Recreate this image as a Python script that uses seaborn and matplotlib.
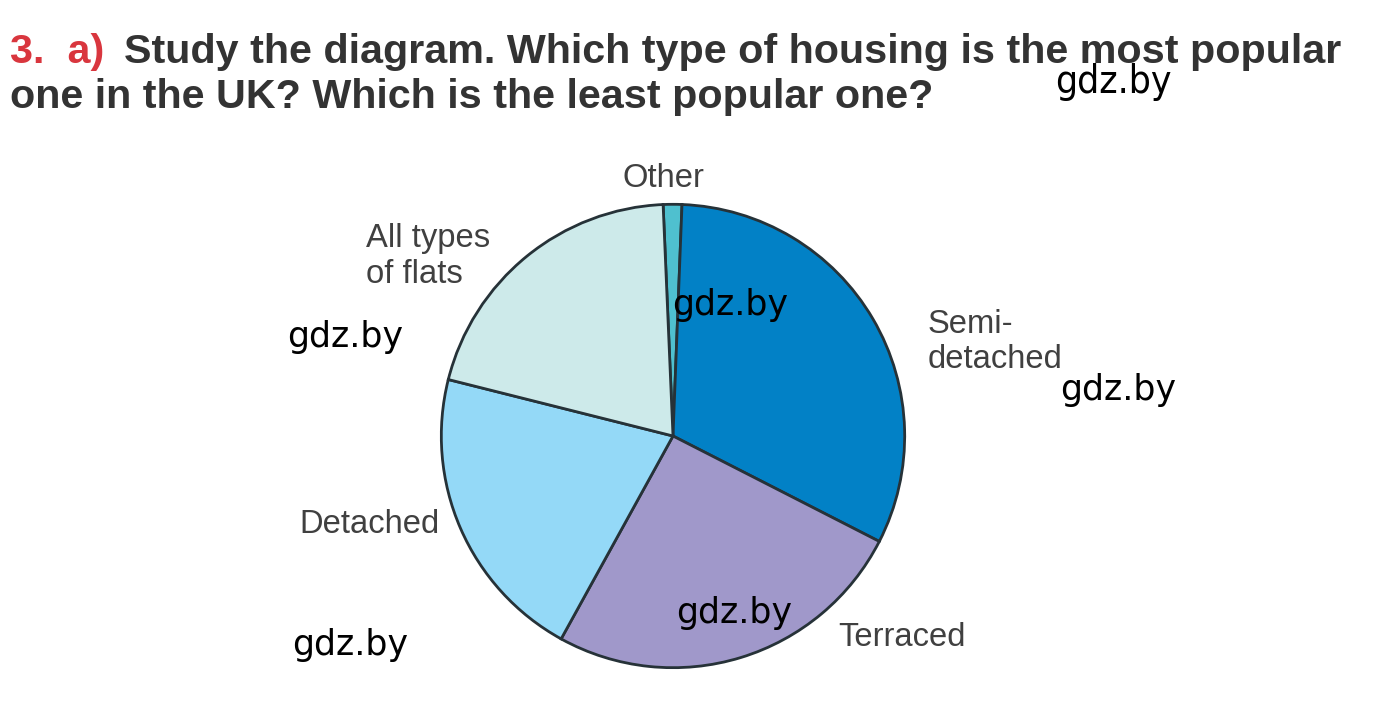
import matplotlib
matplotlib.use("Agg")
import matplotlib.pyplot as plt
import seaborn as sns

sns.set_theme(style="white")
plt.rcParams['font.family'] = ['Liberation Sans', 'DejaVu Sans']

# Data (clockwise from the top)
categories = ["Other", "Semi-\ndetached", "Terraced", "Detached", "All types\nof flats"]
shares = [1.3, 31.9, 25.5, 20.9, 20.4]
colors = ["#4fc0cf", "#0281c6", "#a098ca", "#94d9f7", "#cdeaea"]

W, H = 1382, 706
fig = plt.figure(figsize=(W / 100, H / 100), dpi=100)
fig.patch.set_facecolor("white")

cx, cy, r = 673, 436, 234
ax = fig.add_axes([(cx - r) / W, (H - cy - r) / H, 2 * r / W, 2 * r / H])
ax.pie(shares, colors=colors, startangle=92.45, counterclock=False,
       radius=1.0, wedgeprops=dict(edgecolor="#263238", linewidth=2.0))
ax.set_xlim(-1.01, 1.01)
ax.set_ylim(-1.01, 1.01)
ax.set_aspect("equal")
ax.axis("off")

def d(px, py):
    return (px - cx) / r, (cy - py) / r

label_pos = [
    (d(663, 176), "center"),
    (d(930, 341), "left"),
    (d(840, 640), "left"),
    (d(296, 525), "left"),
    (d(363, 255), "left"),
]
for lab, ((x, y), ha) in zip(categories, label_pos):
    ax.text(x, y, lab, ha=ha, va="center", fontsize=23.6, color="#404040",
            linespacing=1.2, clip_on=False)

# Title
fig.text(10 / W, 1 - 63 / H, "3.  a)", color="#d9363e", fontsize=29.7,
         fontweight="bold", ha="left", va="baseline")
fig.text(124 / W, 1 - 63 / H,
         "Study the diagram. Which type of housing is the most popular",
         color="#333333", fontsize=29.7, fontweight="bold", ha="left", va="baseline")
fig.text(10 / W, 1 - 108 / H, "one in the UK? Which is the least popular one?",
         color="#333333", fontsize=29.7, fontweight="bold", ha="left", va="baseline")

# Watermarks
fig.text(1113 / W, 1 - 82 / H, "gdz.by", color="black", fontsize=28,
         family=["DejaVu Sans"], stretch="condensed", ha="center", va="center")
marks = [(345, 337), (730, 305), (1118, 390), (734, 613), (350, 645)]
for (mx, my) in marks:
    fig.text(mx / W, 1 - my / H, "gdz.by", color="black", fontsize=25,
             family=["DejaVu Sans"], ha="center", va="center")

fig.savefig("out.png", dpi=100, facecolor="white")
